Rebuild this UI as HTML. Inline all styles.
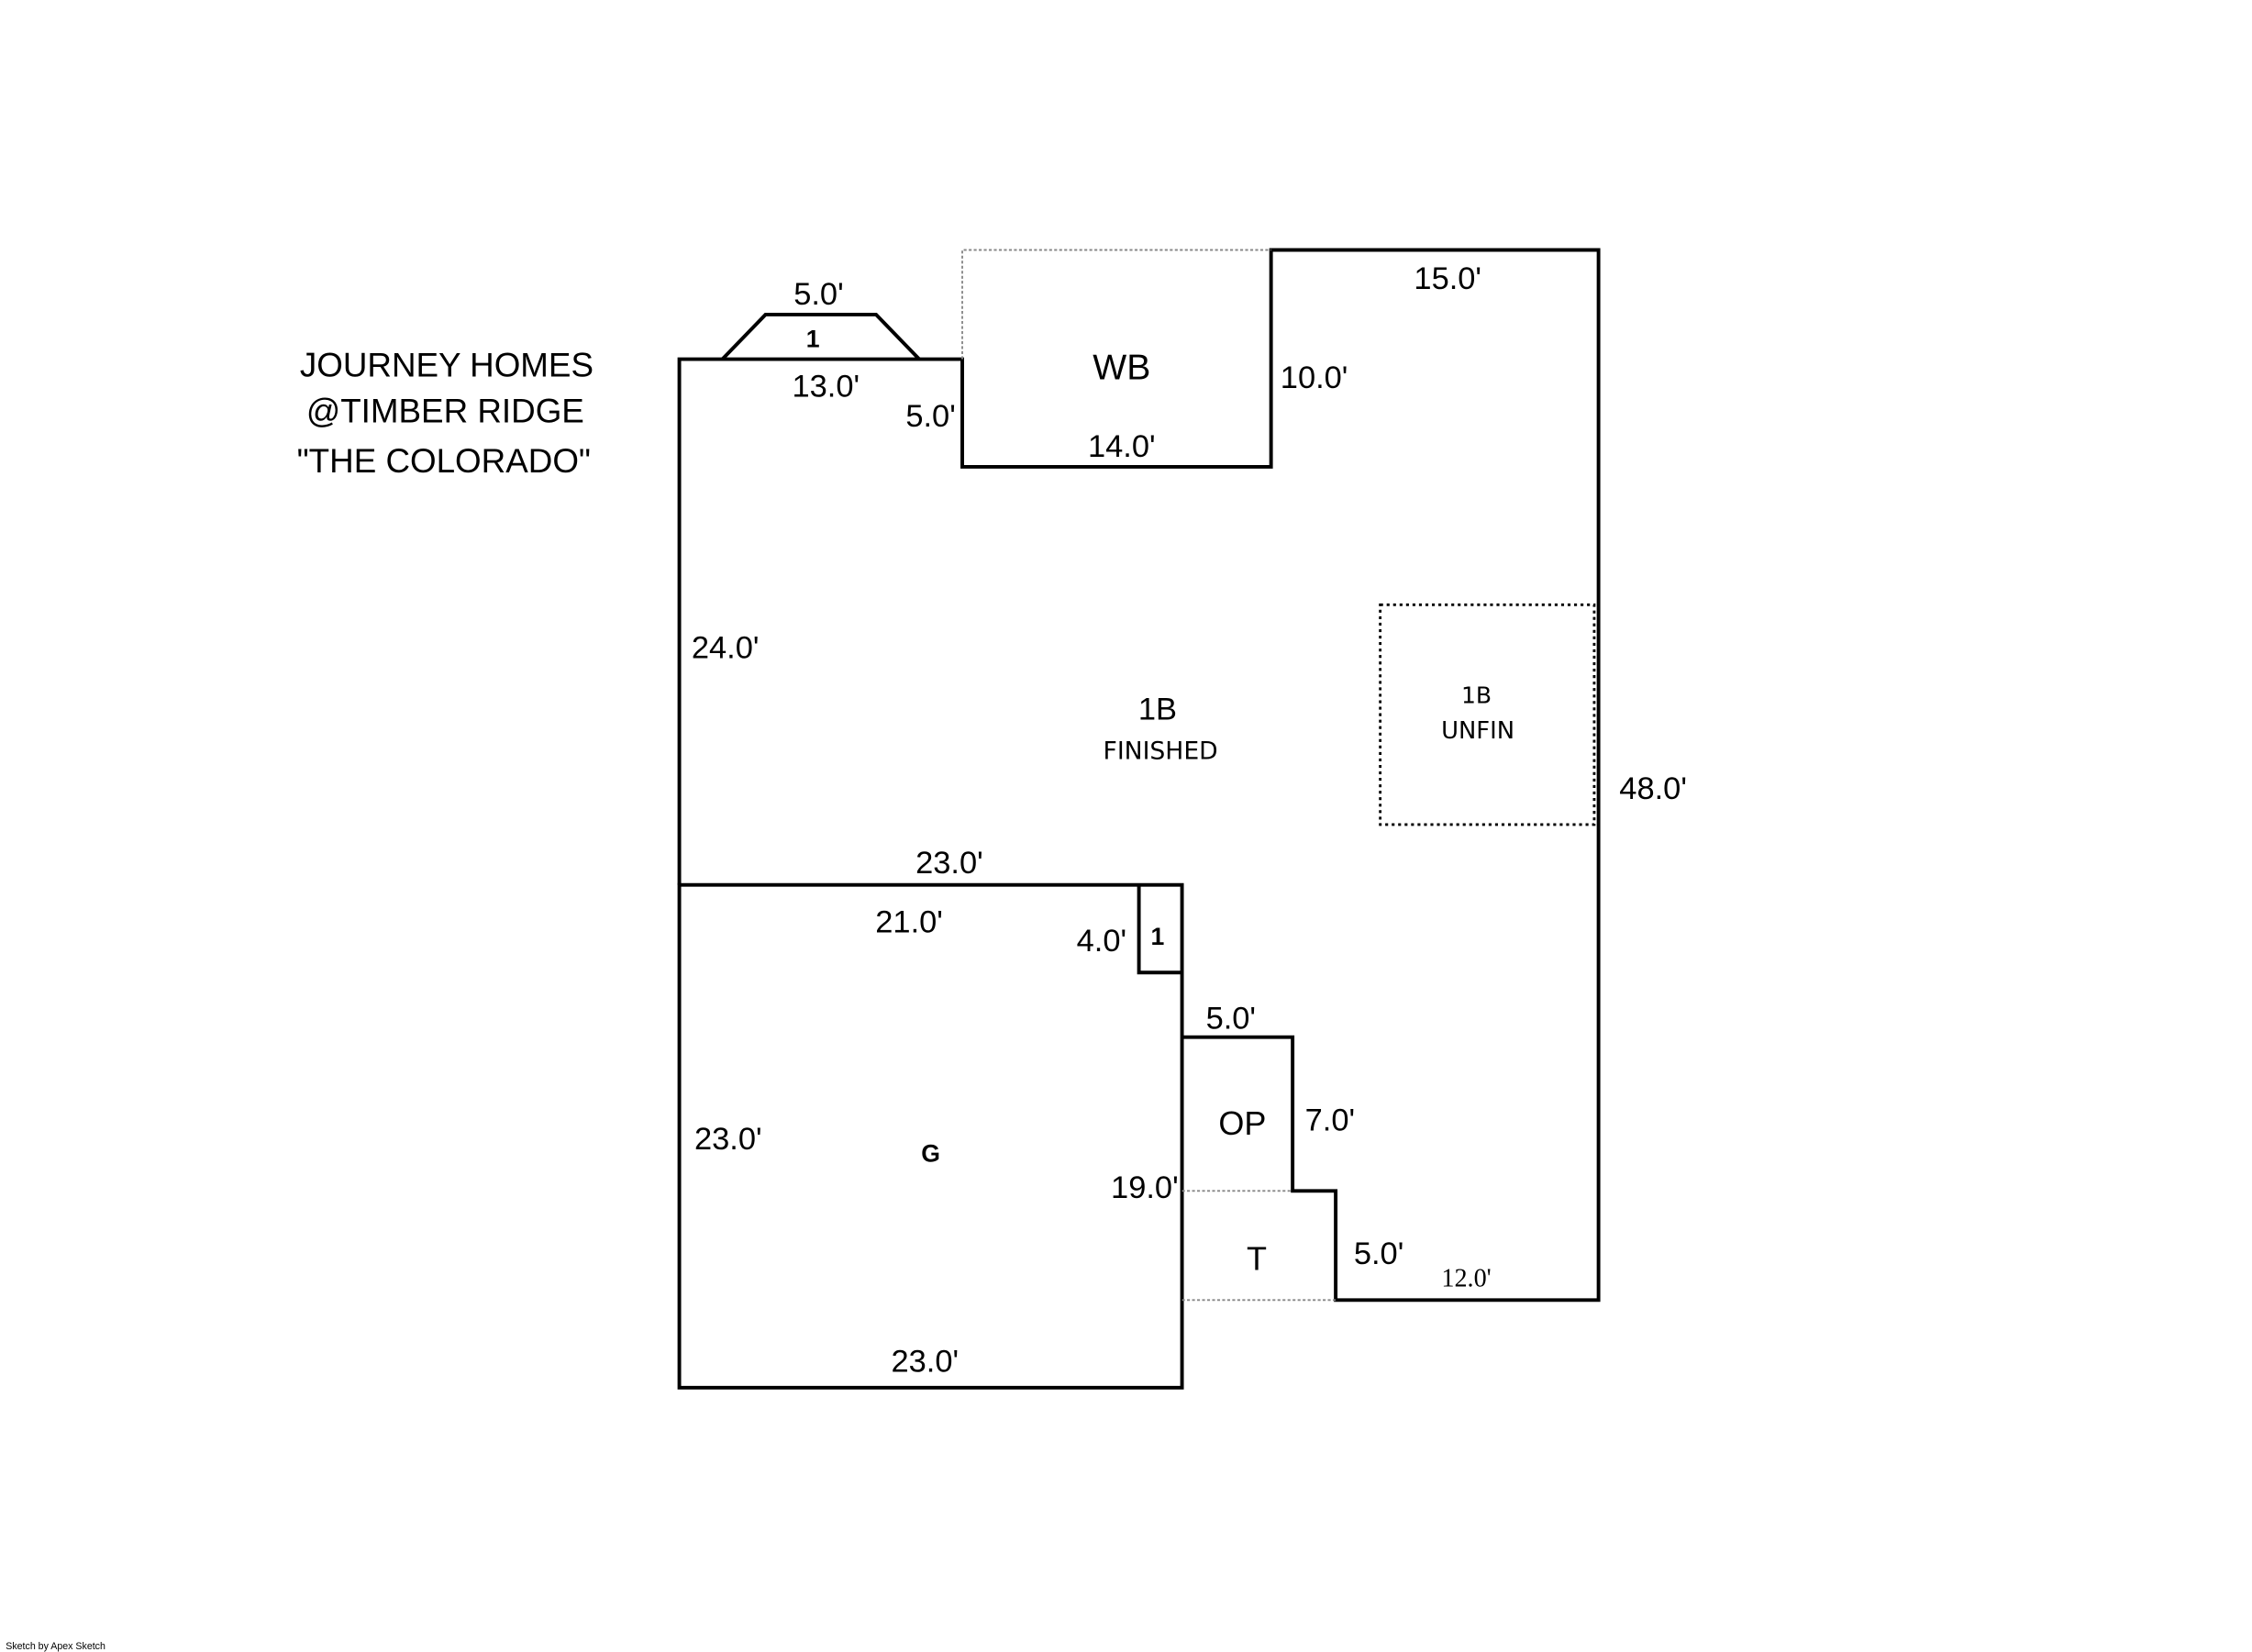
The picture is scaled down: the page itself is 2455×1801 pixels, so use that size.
<!DOCTYPE html>
<html><head><meta charset="utf-8"><style>
html,body{margin:0;padding:0;background:#fff;}
svg{display:block;}
text{font-family:"Liberation Sans",Arial,sans-serif;fill:#000;}
</style></head><body>
<svg width="2455" height="1801" viewBox="0 0 1568 1150" preserveAspectRatio="none" xmlns="http://www.w3.org/2000/svg">
<rect x="0" y="0" width="1568" height="1150" fill="#fff"/>
<g fill="none" stroke="#000" stroke-width="2.5" stroke-linejoin="miter">
<polyline points="473,616 473,250 670,250 670,325 885,325 885,174 1113,174 1113,905 930,905 930,829 900,829 900,722 823,722"/>
<rect x="473" y="616" width="350" height="350"/>
<polyline points="793,616 793,677 823,677"/>
<polyline points="503,250 533,219 610,219 640,250"/>
</g>
<g fill="none" stroke="#888" stroke-width="1.2" stroke-dasharray="2,1.5">
<polyline points="670,250 670,174 885,174"/>
<line x1="823" y1="829" x2="900" y2="829"/>
<line x1="823" y1="905" x2="930" y2="905"/>
</g>
<rect x="961" y="421" width="149" height="153" fill="none" stroke="#000" stroke-width="1.8" stroke-dasharray="2,2.5"/>
<g font-size="22" text-anchor="middle" dominant-baseline="central">
<text x="570" y="205">5.0'</text>
<text x="566" y="236" font-size="17" font-weight="bold">1</text>
<text x="575" y="269">13.0'</text>
<text x="648" y="290">5.0'</text>
<text x="781" y="256" font-size="25">WB</text>
<text x="781" y="311">14.0'</text>
<text x="915" y="263">10.0'</text>
<text x="1008" y="194">15.0'</text>
<text x="505" y="451">24.0'</text>
<text x="806" y="494">1B</text>
<text x="808" y="523" font-size="17" style="font-family:'DejaVu Sans',sans-serif">FINISHED</text>
<text x="1028" y="484" font-size="16" style="font-family:'DejaVu Sans',sans-serif">1B</text>
<text x="1029" y="509" font-size="16.5" style="font-family:'DejaVu Sans',sans-serif">UNFIN</text>
<text x="1151" y="549">48.0'</text>
<text x="661" y="601">23.0'</text>
<text x="633" y="642">21.0'</text>
<text x="767" y="655">4.0'</text>
<text x="806" y="652" font-size="17" font-weight="bold">1</text>
<text x="857" y="709">5.0'</text>
<text x="865" y="782" font-size="23">OP</text>
<text x="926" y="780">7.0'</text>
<text x="648" y="803" font-size="17" font-weight="bold">G</text>
<text x="507" y="793">23.0'</text>
<text x="797" y="827">19.0'</text>
<text x="875" y="876" font-size="23">T</text>
<text x="960" y="873">5.0'</text>
<text x="1021" y="890" font-size="18" style="font-family:'Liberation Serif',serif">12.0'</text>
<text x="644" y="948">23.0'</text>
<text x="311" y="254" font-size="23.5">JOURNEY HOMES</text>
<text x="310" y="286" font-size="23.5">@TIMBER RIDGE</text>
<text x="309" y="321" font-size="23.5">"THE COLORADO"</text>
</g>
<text x="4" y="1148" font-size="6.8">Sketch by Apex Sketch</text>
</svg>
</body></html>
